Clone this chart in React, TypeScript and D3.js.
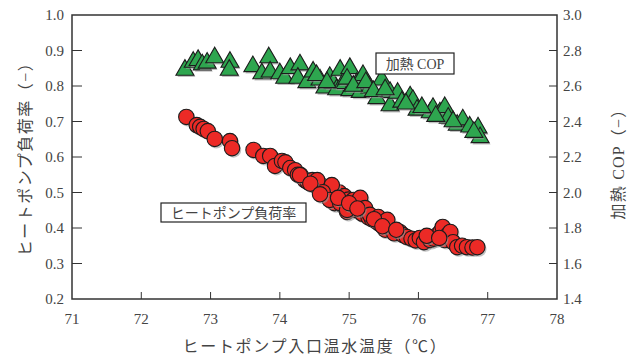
import React from 'react';
import * as d3 from 'd3';

// heat pump inlet water temperature (°C) vs load ratio (-)
const loadTemp = [72.65, 72.8, 72.85, 72.9, 72.96, 73.06, 73.28, 73.31, 73.62, 73.76, 73.86, 73.93, 74.03, 74.08, 74.15, 74.22, 74.26, 74.3, 74.36, 74.4, 74.47, 74.52, 74.56, 74.6, 74.65, 74.68, 74.72, 74.76, 74.79, 74.82, 74.86, 74.9, 74.93, 74.97, 74.99, 75.03, 75.06, 75.1, 75.15, 75.19, 75.23, 75.28, 75.33, 75.4, 75.45, 75.52, 75.59, 75.65, 75.73, 75.78, 75.83, 75.9, 75.96, 76.02, 76.08, 76.17, 76.22, 76.27, 76.32, 76.35, 76.38, 76.42, 76.46, 76.5, 76.56, 76.63, 76.7, 76.78, 76.85,
  74.29, 74.54, 74.75, 74.62, 74.72, 74.87, 74.97, 75.06, 75.16, 75.23, 75.3, 75.42, 75.55, 74.44, 74.58, 74.84, 75.0, 75.12, 75.36, 75.48, 75.68, 76.12, 76.3];
const loadRatio = [0.713, 0.69, 0.685, 0.679, 0.673, 0.651, 0.645, 0.625, 0.62, 0.603, 0.603, 0.575, 0.589, 0.585, 0.569, 0.563, 0.55, 0.549, 0.535, 0.53, 0.535, 0.52, 0.51, 0.52, 0.5, 0.515, 0.48, 0.51, 0.47, 0.49, 0.5, 0.465, 0.49, 0.445, 0.48, 0.46, 0.475, 0.45, 0.47, 0.44, 0.45, 0.43, 0.425, 0.417, 0.41, 0.395, 0.4, 0.385, 0.389, 0.38, 0.375, 0.37, 0.365, 0.372, 0.36, 0.366, 0.37, 0.38, 0.39, 0.403, 0.366, 0.38, 0.389, 0.36, 0.346, 0.35, 0.346, 0.345, 0.346,
  0.549, 0.535, 0.521, 0.501, 0.479, 0.47, 0.451, 0.479, 0.485, 0.456, 0.437, 0.431, 0.423, 0.525, 0.495, 0.485, 0.47, 0.455, 0.425, 0.405, 0.395, 0.378, 0.372];

// heat pump inlet water temperature (°C) vs heating COP (-)
const copTemp = [72.63, 72.75, 72.82, 72.88, 72.95, 73.06, 73.28, 73.27, 73.61, 73.84, 73.74, 73.86, 74.0, 74.07, 74.15, 74.29, 74.26, 74.39, 74.48, 74.58, 74.65, 74.72, 74.77, 74.82, 74.87, 74.91, 74.94, 75.01, 75.01, 75.11, 75.16, 75.2, 75.26, 75.3, 75.4, 75.47, 75.59, 75.59, 75.7, 75.76, 75.88, 75.92, 75.98, 76.17, 76.21, 76.31, 76.38, 76.43, 76.56, 76.64, 76.74, 76.86, 76.89,
  74.53, 74.68, 74.97, 75.06, 75.24, 75.35, 75.52, 75.82, 76.05, 76.25, 76.5, 76.8];
const copValue = [2.69, 2.735, 2.745, 2.72, 2.73, 2.76, 2.735, 2.69, 2.71, 2.76, 2.67, 2.68, 2.67, 2.645, 2.7, 2.72, 2.645, 2.62, 2.68, 2.635, 2.59, 2.65, 2.615, 2.58, 2.69, 2.615, 2.615, 2.7, 2.575, 2.615, 2.565, 2.66, 2.605, 2.59, 2.53, 2.635, 2.565, 2.49, 2.56, 2.51, 2.54, 2.52, 2.465, 2.45, 2.475, 2.45, 2.48, 2.42, 2.38, 2.41, 2.37, 2.365, 2.31,
  2.66, 2.62, 2.64, 2.6, 2.62, 2.57, 2.58, 2.5, 2.48, 2.43, 2.4, 2.34];

const xTicks = [71, 72, 73, 74, 75, 76, 77, 78];
const yLeftTicks = [0.2, 0.3, 0.4, 0.5, 0.6, 0.7, 0.8, 0.9, 1.0];
const yRightTicks = [1.4, 1.6, 1.8, 2.0, 2.2, 2.4, 2.6, 2.8, 3.0];

const W = 630, H = 359;
const m = { left: 72, right: 557, top: 15, bottom: 299 };
const font = '"Liberation Serif", "Noto Sans CJK JP", serif';
const axisColor = '#333';
const textColor = '#444';

export default function App() {
  const x = d3.scaleLinear().domain([71, 78]).range([m.left, m.right]);
  const yL = d3.scaleLinear().domain([0.2, 1.0]).range([m.bottom, m.top]);
  const yR = d3.scaleLinear().domain([1.4, 3.0]).range([m.bottom, m.top]);
  const tri = d3.symbol().type(d3.symbolTriangle).size(140)();

  const circles = loadTemp.map((t, i) => ({ cx: x(t), cy: yL(loadRatio[i]) }));
  const triangles = copTemp.map((t, i) => ({ cx: x(t), cy: yR(copValue[i]) }));

  return (
    <svg width={W} height={H} style={{ position: 'absolute', left: 0, top: 0, background: '#fff' }}>
      {/* triangles (COP) */}
      <g>
        {triangles.map((d, i) => (
          <g key={'t' + i} transform={`translate(${d.cx},${d.cy})`}>
            <path d={tri} transform="translate(1.5,1.8)" fill="#999" opacity={0.6} />
            <path d={tri} fill="#2ea64f" stroke="#1c1c1c" strokeWidth={1.1} />
          </g>
        ))}
      </g>
      {/* circles (load ratio) */}
      <g>
        {circles.map((d, i) => (
          <g key={'c' + i}>
            <circle cx={d.cx + 1.5} cy={d.cy + 1.8} r={7.7} fill="#999" opacity={0.6} />
            <circle cx={d.cx} cy={d.cy} r={7.7} fill="#ec2a26" stroke="#1c1c1c" strokeWidth={1.1} />
          </g>
        ))}
      </g>

      {/* frame */}
      <rect x={m.left} y={m.top} width={m.right - m.left} height={m.bottom - m.top}
        fill="none" stroke={axisColor} strokeWidth={1.5} />

      {/* bottom ticks */}
      {xTicks.map(t => (
        <g key={'x' + t}>
          {t > 71 && t < 78 && (
            <line x1={x(t)} x2={x(t)} y1={m.bottom} y2={m.bottom - 7} stroke={axisColor} strokeWidth={1} />
          )}
          <text x={x(t)} y={324} textAnchor="middle" fontFamily={font} fontSize={15} fill={textColor}>{t}</text>
        </g>
      ))}
      {/* left ticks */}
      {yLeftTicks.map(t => (
        <g key={'l' + t}>
          {t > 0.25 && t < 0.95 && (
            <line x1={m.left} x2={m.left + 10} y1={yL(t)} y2={yL(t)} stroke={axisColor} strokeWidth={1} />
          )}
          <text x={64} y={yL(t) + 5} textAnchor="end" fontFamily={font} fontSize={15} fill={textColor}>{t.toFixed(1)}</text>
        </g>
      ))}
      {/* right ticks */}
      {yRightTicks.map(t => (
        <g key={'r' + t}>
          {t > 1.45 && t < 2.95 && (
            <line x1={m.right - 8} x2={m.right} y1={yR(t)} y2={yR(t)} stroke={axisColor} strokeWidth={1} />
          )}
          <text x={563} y={yR(t) + 5} textAnchor="start" fontFamily={font} fontSize={15} fill={textColor}>{t.toFixed(1)}</text>
        </g>
      ))}

      {/* axis titles */}
      <text x={315} y={352} textAnchor="middle" fontFamily={font} fontSize={16} letterSpacing={1.7} fill={textColor}>
        ヒートポンプ入口温水温度（℃）
      </text>
      <text transform="translate(31,155) rotate(-90)" textAnchor="middle" fontFamily={font} fontSize={16} letterSpacing={1.5} fill={textColor}>
        ヒートポンプ負荷率（−）
      </text>
      <text transform="translate(624,160) rotate(-90)" textAnchor="middle" fontFamily={font} fontSize={16} letterSpacing={1.2} fill={textColor}>
        加熱 COP（−）
      </text>

      {/* in-plot labels */}
      <rect x={376} y={53} width={78} height={21} fill="#fff" stroke="#222" strokeWidth={1.2} />
      <text x={415} y={69} textAnchor="middle" fontFamily={font} fontSize={14} fill={textColor}>加熱 COP</text>
      <rect x={161} y={203} width={145} height={19} fill="#fff" stroke="#222" strokeWidth={1.2} />
      <text x={233.5} y={218} textAnchor="middle" fontFamily={font} fontSize={14} fill={textColor}>ヒートポンプ負荷率</text>
    </svg>
  );
}
